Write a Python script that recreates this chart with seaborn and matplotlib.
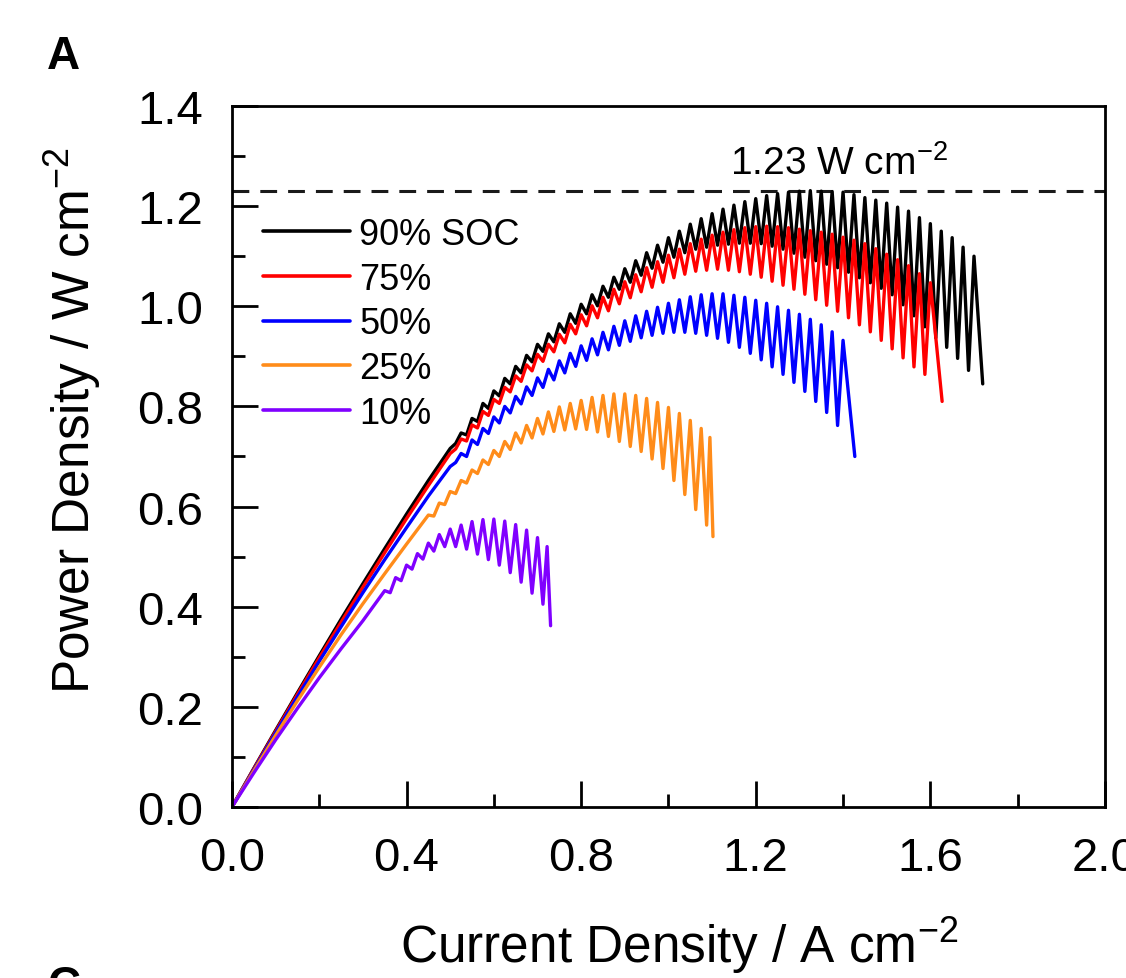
import matplotlib
matplotlib.use("Agg")
import matplotlib.pyplot as plt
import seaborn as sns
import pandas as pd
from matplotlib.ticker import MultipleLocator

# --- DATA ---
# current steps of the polarisation scan, A cm-2 (zig-zag region)
CUR_STEPS = [0.35, 0.3625, 0.375, 0.3875, 0.4, 0.4125, 0.425, 0.4375, 0.45, 0.4625,
             0.475, 0.4875, 0.5, 0.5125, 0.525, 0.5375, 0.55, 0.5625, 0.575, 0.5875,
             0.6, 0.6125, 0.625, 0.6375, 0.65, 0.6625, 0.675, 0.6875, 0.7, 0.7125,
             0.725, 0.7375, 0.75, 0.7625, 0.775, 0.7875, 0.8, 0.8125, 0.825, 0.8375,
             0.85, 0.8625, 0.875, 0.8875, 0.9, 0.9125, 0.925, 0.9375, 0.95, 0.9625,
             0.975, 0.9875, 1.0, 1.0125, 1.025, 1.0375, 1.05, 1.0625, 1.075, 1.0875,
             1.1, 1.1125, 1.125, 1.1375, 1.15, 1.1625, 1.175, 1.1875, 1.2, 1.2125,
             1.225, 1.2375, 1.25, 1.2625, 1.275, 1.2875, 1.3, 1.3125, 1.325, 1.3375,
             1.35, 1.3625, 1.375, 1.3875, 1.4, 1.4125, 1.425, 1.4375, 1.45, 1.4625,
             1.475, 1.4875, 1.5, 1.5125, 1.525, 1.5375, 1.55, 1.5625, 1.575, 1.5875,
             1.6, 1.6125, 1.625, 1.6375, 1.65, 1.6625, 1.675, 1.6875, 1.7]

LABELS = ["90% SOC", "75%", "50%", "25%", "10%"]
COLORS = ["#000000", "#ff0000", "#0000ff", "#ff8c1a", "#8000ff"]

# 90 % SOC
i90_smooth = [0.0, 0.05, 0.1, 0.15, 0.2, 0.25, 0.3, 0.35, 0.4, 0.45]
p90_smooth = [0.0, 0.077, 0.153, 0.228, 0.302, 0.375, 0.446, 0.516, 0.585, 0.652]
p90_teeth = [0.716, 0.726, 0.747, 0.743, 0.776, 0.770, 0.806, 0.796, 0.831, 0.821,
             0.856, 0.845, 0.880, 0.867, 0.902, 0.889, 0.924, 0.910, 0.945, 0.929,
             0.965, 0.948, 0.985, 0.966, 1.004, 0.985, 1.023, 1.001, 1.040, 1.018,
             1.058, 1.034, 1.075, 1.048, 1.091, 1.062, 1.107, 1.076, 1.122, 1.088,
             1.137, 1.098, 1.150, 1.107, 1.164, 1.114, 1.175, 1.118, 1.185, 1.122,
             1.194, 1.124, 1.202, 1.126, 1.209, 1.126, 1.215, 1.125, 1.221, 1.120,
             1.225, 1.114, 1.228, 1.106, 1.230, 1.098, 1.231, 1.091, 1.230, 1.084,
             1.229, 1.077, 1.228, 1.068, 1.223, 1.057, 1.217, 1.047, 1.212, 1.036,
             1.206, 1.023, 1.198, 1.003, 1.190, 0.981, 1.177, 0.959, 1.165, 0.937,
             1.150, 0.918, 1.137, 0.896, 1.118, 0.872, 1.100]
i90_tail = [1.72]
p90_tail = [0.845]

# 75 %
i75_smooth = [0.0, 0.05, 0.1, 0.15, 0.2, 0.25, 0.3, 0.35, 0.4, 0.45]
p75_smooth = [0.0, 0.076, 0.151, 0.225, 0.298, 0.369, 0.439, 0.508, 0.576, 0.642]
p75_teeth = [0.706, 0.715, 0.735, 0.731, 0.763, 0.757, 0.790, 0.782, 0.814, 0.806,
             0.838, 0.829, 0.861, 0.850, 0.883, 0.871, 0.904, 0.890, 0.924, 0.909,
             0.944, 0.927, 0.964, 0.945, 0.983, 0.961, 1.001, 0.977, 1.018, 0.991,
             1.034, 1.005, 1.049, 1.017, 1.063, 1.029, 1.077, 1.038, 1.089, 1.048,
             1.102, 1.057, 1.114, 1.064, 1.125, 1.070, 1.134, 1.072, 1.142, 1.074,
             1.148, 1.072, 1.153, 1.069, 1.157, 1.064, 1.159, 1.058, 1.160, 1.050,
             1.159, 1.042, 1.157, 1.034, 1.154, 1.024, 1.151, 1.013, 1.148, 1.002,
             1.144, 0.990, 1.138, 0.977, 1.132, 0.963, 1.125, 0.949, 1.115, 0.932,
             1.104, 0.915, 1.093, 0.897, 1.081, 0.879, 1.065, 0.864, 1.047]
i75_tail = [1.627]
p75_tail = [0.810]

# 50 %
i50_smooth = [0.0, 0.05, 0.1, 0.15, 0.2, 0.25, 0.3, 0.35, 0.4, 0.45]
p50_smooth = [0.0, 0.074, 0.148, 0.220, 0.291, 0.360, 0.428, 0.494, 0.558, 0.621]
p50_teeth = [0.680, 0.688, 0.706, 0.700, 0.733, 0.724, 0.756, 0.746, 0.779, 0.767,
             0.800, 0.787, 0.820, 0.805, 0.839, 0.822, 0.857, 0.838, 0.874, 0.853,
             0.891, 0.867, 0.906, 0.880, 0.921, 0.892, 0.935, 0.903, 0.948, 0.913,
             0.960, 0.922, 0.971, 0.930, 0.981, 0.937, 0.990, 0.942, 0.998, 0.946,
             1.006, 0.948, 1.013, 0.948, 1.019, 0.946, 1.023, 0.942, 1.025, 0.936,
             1.025, 0.928, 1.022, 0.918, 1.018, 0.906, 1.012, 0.893, 1.006, 0.879,
             0.999, 0.864, 0.992, 0.848, 0.984, 0.830, 0.974, 0.810, 0.963, 0.788,
             0.949, 0.762, 0.932]
i50_tail = [1.427]
p50_tail = [0.700]

# 25 %
i25_smooth = [0.0, 0.05, 0.1, 0.15, 0.2, 0.25, 0.3, 0.35, 0.4]
p25_smooth = [0.0, 0.072, 0.143, 0.212, 0.279, 0.344, 0.406, 0.466, 0.525]
p25_teeth = [0.583, 0.581, 0.607, 0.604, 0.630, 0.626, 0.652, 0.647, 0.673, 0.666,
             0.693, 0.684, 0.712, 0.700, 0.730, 0.714, 0.747, 0.727, 0.762, 0.737,
             0.776, 0.745, 0.789, 0.750, 0.799, 0.753, 0.806, 0.755, 0.812, 0.754,
             0.818, 0.749, 0.822, 0.740, 0.825, 0.730, 0.825, 0.720, 0.822, 0.710,
             0.816, 0.695, 0.808, 0.676, 0.798, 0.652, 0.786, 0.624, 0.772, 0.594,
             0.756, 0.563]
i25_tail = [1.095, 1.102]
p25_tail = [0.738, 0.540]

# 10 %
i10_smooth = [0.0, 0.05, 0.1, 0.15, 0.2, 0.25, 0.3]
p10_smooth = [0.0, 0.068, 0.134, 0.197, 0.258, 0.316, 0.372]
p10_teeth = [0.432, 0.428, 0.458, 0.452, 0.483, 0.475, 0.506, 0.495, 0.527, 0.511,
             0.544, 0.520, 0.555, 0.520, 0.563, 0.515, 0.570, 0.505, 0.574, 0.494,
             0.575, 0.483, 0.571, 0.468, 0.564, 0.449, 0.553, 0.427, 0.538, 0.405]
i10_tail = [0.722, 0.730]
p10_tail = [0.520, 0.362]

TEETH_START = [0.5, 0.5, 0.5, 0.45, 0.35]
PEAK_LINE = 1.23


def build(smooth_i, smooth_p, start, teeth, tail_i, tail_p):
    k = CUR_STEPS.index(start)
    cur = smooth_i + CUR_STEPS[k:k + len(teeth)] + tail_i
    pw = smooth_p + teeth + tail_p
    return cur, pw


series = [
    (i90_smooth, p90_smooth, p90_teeth, i90_tail, p90_tail),
    (i75_smooth, p75_smooth, p75_teeth, i75_tail, p75_tail),
    (i50_smooth, p50_smooth, p50_teeth, i50_tail, p50_tail),
    (i25_smooth, p25_smooth, p25_teeth, i25_tail, p25_tail),
    (i10_smooth, p10_smooth, p10_teeth, i10_tail, p10_tail),
]

frames = []
for lab, start, (si, sp, teeth, ti, tp) in zip(LABELS, TEETH_START, series):
    cur, pw = build(si, sp, start, teeth, ti, tp)
    frames.append(pd.DataFrame({"cur": cur, "pw": pw, "soc": lab}))
df = pd.concat(frames, ignore_index=True)

# --- STYLE ---
sns.set_style("ticks")
plt.rcParams["font.family"] = ["Liberation Sans", "DejaVu Sans"]
plt.rcParams["mathtext.fontset"] = "custom"
plt.rcParams["mathtext.rm"] = "Liberation Sans"
plt.rcParams["mathtext.it"] = "Liberation Sans:italic"
plt.rcParams["mathtext.bf"] = "Liberation Sans:bold"
for key in ["text.color", "axes.labelcolor", "xtick.color", "ytick.color", "axes.edgecolor"]:
    plt.rcParams[key] = "black"

fig = plt.figure(figsize=(11.26, 9.79), dpi=100)
ax = fig.add_axes([0.206, 0.1747, 0.7753, 0.716])

for lab, col in zip(LABELS, COLORS):
    sub = df[df["soc"] == lab]
    sns.lineplot(data=sub, x="cur", y="pw", sort=False, estimator=None,
                 color=col, lw=2.4, label=lab, ax=ax)

ax.axhline(PEAK_LINE, color="#1a1a1a", lw=2.2, dashes=(5.5, 3.6), zorder=1)
ax.text(1.39, 1.265, r"1.23 W cm$^{-2}$", fontsize=28, ha="center", va="baseline")

ax.set_xlim(0, 2.0)
ax.set_ylim(0, 1.4)
ax.xaxis.set_major_locator(MultipleLocator(0.4))
ax.xaxis.set_minor_locator(MultipleLocator(0.2))
ax.yaxis.set_major_locator(MultipleLocator(0.2))
ax.yaxis.set_minor_locator(MultipleLocator(0.1))
ax.xaxis.set_major_formatter(plt.FormatStrFormatter("%.1f"))
ax.yaxis.set_major_formatter(plt.FormatStrFormatter("%.1f"))

ax.tick_params(which="both", direction="in", top=False, right=False, width=2.0,
               labelsize=34, pad=21)
ax.tick_params(which="major", length=18.5)
ax.tick_params(which="minor", length=9.5)
for sp in ax.spines.values():
    sp.set_linewidth(2.0)
    sp.set_visible(True)

ax.set_xlabel(r"Current Density / A cm$^{-2}$", fontsize=37)
ax.set_ylabel(r"Power Density / W cm$^{-2}$", fontsize=37)
ax.xaxis.label.set_va("baseline")
ax.yaxis.label.set_va("baseline")
ax.xaxis.set_label_coords(0.512, -0.221)
ax.yaxis.set_label_coords(-0.163, 0.553)

leg = ax.legend(frameon=False, loc="upper left", bbox_to_anchor=(0.036, 0.842),
                fontsize=26, handlelength=2.4, handletextpad=0.25, labelspacing=0.27,
                borderaxespad=0, borderpad=0)
for h in leg.get_lines():
    h.set_linewidth(2.6)

fig.text(0.042, 1 - 35 / 979, "A", fontsize=33, fontweight="bold", va="top")
fig.text(0.042, 1 - 965 / 979, "C", fontsize=33, fontweight="bold", va="top")

fig.savefig("out.png", dpi=100)
